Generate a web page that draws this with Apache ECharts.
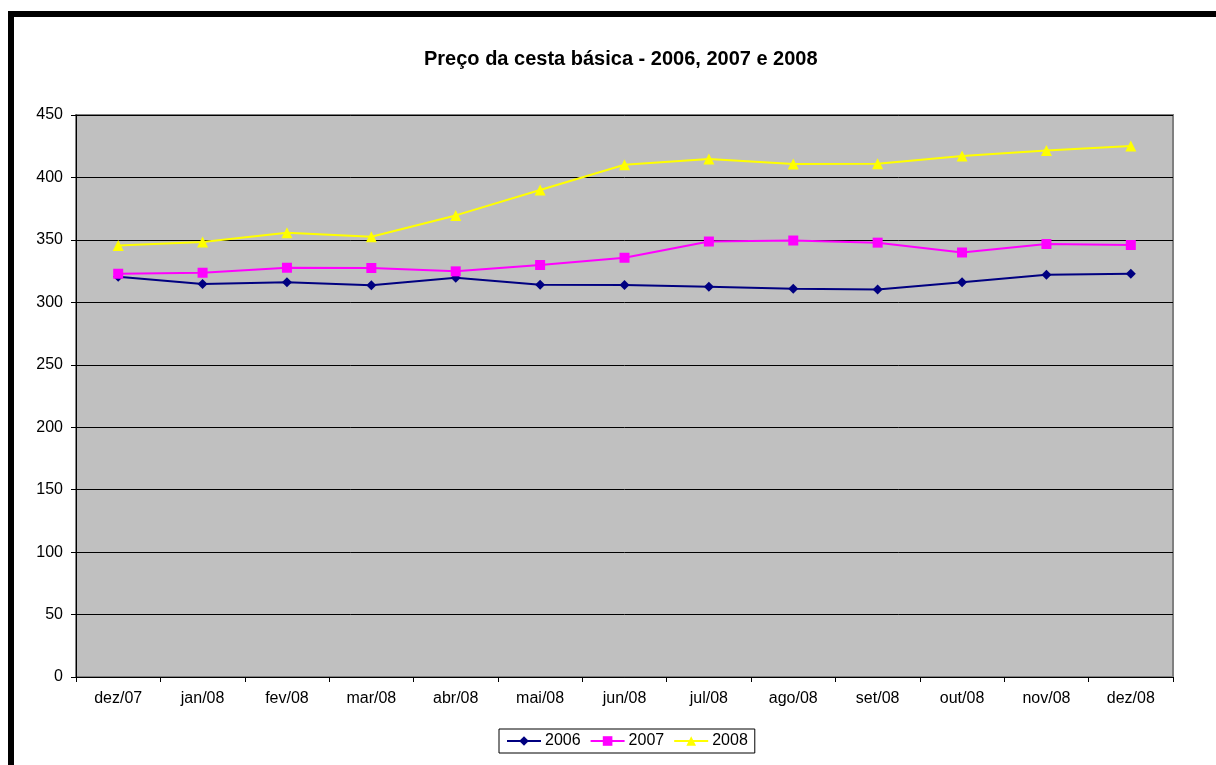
<!DOCTYPE html>
<html>
<head>
<meta charset="utf-8">
<title>Preço da cesta básica</title>
<script src="https://cdn.jsdelivr.net/npm/echarts@6/dist/echarts.min.js"></script>
<style>
  html, body { margin: 0; padding: 0; background: #fff; }
  #chart { width: 1216px; height: 765px; }
</style>
</head>
<body>
<div id="chart"></div>
<script>
// months on the x axis
const months = ['dez/07', 'jan/08', 'fev/08', 'mar/08', 'abr/08', 'mai/08', 'jun/08',
  'jul/08', 'ago/08', 'set/08', 'out/08', 'nov/08', 'dez/08']

// values
const v2006 = [320.5, 314.6, 316.0, 313.6, 319.7, 314.1, 313.9, 312.5, 310.9, 310.3, 316.0, 322.1, 322.9]
const v2007 = [322.9, 323.7, 327.7, 327.5, 324.8, 329.9, 335.7, 348.7, 349.5, 347.8, 339.9, 346.7, 345.9]
const v2008 = [345.6, 348.3, 355.7, 352.5, 369.6, 389.9, 410.2, 414.7, 410.7, 411.0, 417.1, 421.6, 425.1]

const font = 'Liberation Sans, Arial, sans-serif'

const chart = echarts.init(document.getElementById('chart'))

chart.setOption({
  animation: false,
  backgroundColor: '#fff',
  color: ['#000080', '#ff00ff', '#ffff00'],
  // thick black frame round the chart (only top/left visible)
  graphic: [{
    type: 'rect',
    shape: { x: 11, y: 14, width: 1400, height: 900 },
    style: { fill: 'none', stroke: '#000', lineWidth: 6 },
    z: 100
  }],
  title: {
    text: 'Preço da cesta básica - 2006, 2007 e 2008',
    left: 419,
    top: 44,
    textStyle: { fontFamily: font, fontSize: 20, fontWeight: 'bold', color: '#000' }
  },
  legend: {
    left: 499,
    top: 729,
    width: 251,
    height: 25,
    padding: [4, 7],
    itemGap: 9,
    itemWidth: 34,
    itemHeight: 12,
    borderColor: '#000',
    borderWidth: 1,
    borderRadius: 0,
    textStyle: { fontFamily: font, fontSize: 16, color: '#000', padding: [0, 0, 0, -1] },
    data: ['2006', '2007', '2008']
  },
  grid: {
    left: 76,
    top: 115,
    right: 43,
    bottom: 88,
    show: true,
    backgroundColor: '#c0c0c0',
    borderColor: '#808080',
    borderWidth: 2
  },
  xAxis: {
    type: 'category',
    data: months,
    boundaryGap: true,
    axisLine: { lineStyle: { color: '#000', width: 1 } },
    axisTick: { show: true, length: 5, lineStyle: { color: '#000' } },
    axisLabel: { fontFamily: font, fontSize: 16, color: '#000', margin: 14, interval: 0 }
  },
  yAxis: {
    type: 'value',
    min: 0,
    max: 450,
    interval: 50,
    axisLine: { show: true, lineStyle: { color: '#000', width: 1 } },
    axisTick: { show: true, length: 5, lineStyle: { color: '#000' } },
    axisLabel: { fontFamily: font, fontSize: 16, color: '#000', margin: 13 },
    splitLine: { show: true, lineStyle: { color: '#000', width: 1 } }
  },
  series: [{
    name: '2006',
    type: 'line',
    data: v2006,
    symbol: 'diamond',
    symbolSize: 10,
    lineStyle: { width: 2 }
  }, {
    name: '2007',
    type: 'line',
    data: v2007,
    symbol: 'rect',
    symbolSize: 10,
    lineStyle: { width: 2 }
  }, {
    name: '2008',
    type: 'line',
    data: v2008,
    symbol: 'triangle',
    symbolSize: 11,
    lineStyle: { width: 2 }
  }]
})
</script>
</body>
</html>
